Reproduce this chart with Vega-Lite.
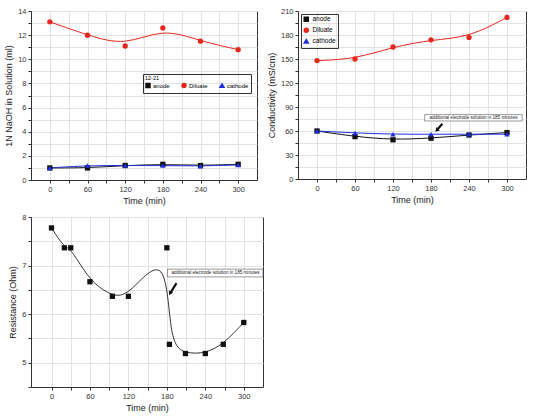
{
  "$schema": "https://vega.github.io/schema/vega-lite/v6.json",
  "background": "white",
  "padding": {"left": 4, "top": 6, "right": 4, "bottom": 4},
  "datasets": {
    "naoh": [
      {"time": 0, "series": "anode", "value": 1.0},
      {"time": 60, "series": "anode", "value": 1.0},
      {"time": 120, "series": "anode", "value": 1.2},
      {"time": 180, "series": "anode", "value": 1.3},
      {"time": 240, "series": "anode", "value": 1.2},
      {"time": 300, "series": "anode", "value": 1.3},
      {"time": 0, "series": "Diluate", "value": 13.1},
      {"time": 60, "series": "Diluate", "value": 12.0},
      {"time": 120, "series": "Diluate", "value": 11.1},
      {"time": 180, "series": "Diluate", "value": 12.6},
      {"time": 240, "series": "Diluate", "value": 11.5},
      {"time": 300, "series": "Diluate", "value": 10.8},
      {"time": 0, "series": "cathode", "value": 1.0},
      {"time": 60, "series": "cathode", "value": 1.2},
      {"time": 120, "series": "cathode", "value": 1.2},
      {"time": 180, "series": "cathode", "value": 1.2},
      {"time": 240, "series": "cathode", "value": 1.15},
      {"time": 300, "series": "cathode", "value": 1.25}
    ],
    "cond": [
      {"time": 0, "series": "anode", "value": 60},
      {"time": 60, "series": "anode", "value": 53},
      {"time": 120, "series": "anode", "value": 49},
      {"time": 180, "series": "anode", "value": 51},
      {"time": 240, "series": "anode", "value": 55},
      {"time": 300, "series": "anode", "value": 58},
      {"time": 0, "series": "Diluate", "value": 148},
      {"time": 60, "series": "Diluate", "value": 150},
      {"time": 120, "series": "Diluate", "value": 165},
      {"time": 180, "series": "Diluate", "value": 174},
      {"time": 240, "series": "Diluate", "value": 177},
      {"time": 300, "series": "Diluate", "value": 202},
      {"time": 0, "series": "cathode", "value": 60},
      {"time": 60, "series": "cathode", "value": 57.5},
      {"time": 120, "series": "cathode", "value": 56},
      {"time": 180, "series": "cathode", "value": 56},
      {"time": 240, "series": "cathode", "value": 56},
      {"time": 300, "series": "cathode", "value": 56}
    ],
    "res": [
      {"time": 0, "value": 7.78},
      {"time": 20, "value": 7.37},
      {"time": 30, "value": 7.37},
      {"time": 60, "value": 6.67},
      {"time": 95, "value": 6.37},
      {"time": 120, "value": 6.37},
      {"time": 180, "value": 7.37},
      {"time": 184, "value": 5.38},
      {"time": 209, "value": 5.19},
      {"time": 240, "value": 5.19},
      {"time": 268, "value": 5.38},
      {"time": 300, "value": 5.83}
    ]
  },
  "config": {
    "font": "Liberation Sans",
    "view": {"stroke": "#333", "strokeWidth": 1},
    "axis": {
      "grid": true,
      "gridColor": "#e2e2e2",
      "labelFontSize": 7.5,
      "titleFontSize": 9,
      "titleFontWeight": "normal",
      "domainColor": "#333",
      "tickColor": "#333",
      "labelColor": "#333",
      "titleColor": "#222",
      "tickSize": 3,
      "tickCount": 40,
      "labelOverlap": false,
      "labelBound": false,
      "labelFlush": false
    },
    "legend": {"labelFont": "Liberation Sans"}
  },
  "vconcat": [
    {
      "hconcat": [
        {
          "width": 226,
          "height": 169,
          "data": {"name": "naoh"},
          "layer": [
            {
              "mark": {"type": "line", "interpolate": "basis", "strokeWidth": 1},
              "encoding": {
                "x": {"field": "time", "type": "quantitative", "scale": {"domain": [-30, 330], "nice": false, "zero": false},
                  "axis": {"values": [0, 30, 60, 90, 120, 150, 180, 210, 240, 270, 300], "tickCount": 40, "labelOverlap": false, "labelExpr": "datum.value % 60 === 0 ? format(datum.value, '.0f') : ''", "title": "Time (min)"}},
                "y": {"field": "value", "type": "quantitative", "scale": {"domain": [0, 14], "nice": false},
                  "axis": {"values": [0,1,2,3,4,5,6,7,8,9,10,11,12,13,14], "tickCount": 40, "labelOverlap": false, "labelExpr": "datum.value % 2 === 0 ? format(datum.value, '.0f') : ''", "title": "1N NaOH in Solution (ml)"}},
                "color": {"field": "series", "type": "nominal",
                  "scale": {"domain": ["anode", "Diluate", "cathode"], "range": ["#111111", "#e8261e", "#1f2fe0"]},
                  "legend": {"title": "12-21", "orient": "none", "legendX": 112, "legendY": 63, "direction": "horizontal",
                    "strokeColor": "#333", "padding": 2, "titleFontSize": 5.5, "titleFontWeight": "normal", "labelFontSize": 6,
                    "symbolSize": 16, "columnPadding": 9, "titlePadding": 1, "labelOffset": 2}}
              }
            },
            {
              "mark": {"type": "point", "filled": true, "size": 28, "opacity": 1},
              "encoding": {
                "x": {"field": "time", "type": "quantitative"},
                "y": {"field": "value", "type": "quantitative"},
                "color": {"field": "series", "type": "nominal",
                  "scale": {"domain": ["anode", "Diluate", "cathode"], "range": ["#111111", "#e8261e", "#1f2fe0"]},
                  "legend": {"title": "12-21", "orient": "none", "legendX": 112, "legendY": 63, "direction": "horizontal",
                    "strokeColor": "#333", "padding": 2, "titleFontSize": 5.5, "titleFontWeight": "normal", "labelFontSize": 6,
                    "symbolSize": 16, "columnPadding": 9, "titlePadding": 1, "labelOffset": 2}},
                "shape": {"field": "series", "type": "nominal",
                  "scale": {"domain": ["anode", "Diluate", "cathode"], "range": ["square", "circle", "triangle-up"]},
                  "legend": {"title": "12-21", "orient": "none", "legendX": 112, "legendY": 63, "direction": "horizontal",
                    "strokeColor": "#333", "padding": 2, "titleFontSize": 5.5, "titleFontWeight": "normal", "labelFontSize": 6,
                    "symbolSize": 16, "columnPadding": 9, "titlePadding": 1, "labelOffset": 2}}
              }
            }
          ]
        },
        {
          "width": 228,
          "height": 168,
          "layer": [
            {
              "data": {"name": "cond"},
              "mark": {"type": "line", "interpolate": "basis", "strokeWidth": 1},
              "encoding": {
                "x": {"field": "time", "type": "quantitative", "scale": {"domain": [-30, 330], "nice": false, "zero": false},
                  "axis": {"values": [0, 30, 60, 90, 120, 150, 180, 210, 240, 270, 300], "tickCount": 40, "labelOverlap": false, "labelExpr": "datum.value % 60 === 0 ? format(datum.value, '.0f') : ''", "title": "Time (min)"}},
                "y": {"field": "value", "type": "quantitative", "scale": {"domain": [0, 210], "nice": false},
                  "axis": {"values": [0,15,30,45,60,75,90,105,120,135,150,165,180,195,210], "tickCount": 40, "labelOverlap": false, "labelExpr": "datum.value % 30 === 0 ? format(datum.value, '.0f') : ''", "title": "Conductivity (mS/cm)"}},
                "color": {"field": "series", "type": "nominal",
                  "scale": {"domain": ["anode", "Diluate", "cathode"], "range": ["#111111", "#e8261e", "#1f2fe0"]},
                  "legend": {"title": null, "orient": "top-left", "offset": 3, "strokeColor": "#333", "padding": 2,
                    "labelFontSize": 6.5, "symbolSize": 16, "rowPadding": 0, "labelOffset": 3}}
              }
            },
            {
              "data": {"name": "cond"},
              "mark": {"type": "point", "filled": true, "size": 28, "opacity": 1},
              "encoding": {
                "x": {"field": "time", "type": "quantitative"},
                "y": {"field": "value", "type": "quantitative"},
                "color": {"field": "series", "type": "nominal",
                  "scale": {"domain": ["anode", "Diluate", "cathode"], "range": ["#111111", "#e8261e", "#1f2fe0"]},
                  "legend": {"title": null, "orient": "top-left", "offset": 3, "strokeColor": "#333", "padding": 2,
                    "labelFontSize": 6.5, "symbolSize": 16, "rowPadding": 0, "labelOffset": 3}},
                "shape": {"field": "series", "type": "nominal",
                  "scale": {"domain": ["anode", "Diluate", "cathode"], "range": ["square", "circle", "triangle-up"]},
                  "legend": {"title": null, "orient": "top-left", "offset": 3, "strokeColor": "#333", "padding": 2,
                    "labelFontSize": 6.5, "symbolSize": 16, "rowPadding": 0, "labelOffset": 3}}
              }
            },
            {
              "data": {"values": [{"x1": 170, "x2": 324, "y1": 72.5, "y2": 80.5, "xt": 247, "yt": 76.5, "label": "additional electrode solution in 185 minutes"}]},
              "layer": [
                {"mark": {"type": "rect", "fill": "white", "stroke": "#555", "strokeWidth": 0.6},
                  "encoding": {"x": {"field": "x1", "type": "quantitative"}, "x2": {"field": "x2"}, "y": {"field": "y1", "type": "quantitative"}, "y2": {"field": "y2"}}},
                {"mark": {"type": "text", "fontSize": 4.6, "color": "#222", "baseline": "middle", "align": "center"},
                  "encoding": {"x": {"field": "xt", "type": "quantitative"}, "y": {"field": "yt", "type": "quantitative"}, "text": {"field": "label"}}}
              ]
            },
            {
              "data": {"values": [{"x1": 198, "y1": 69, "x2": 189, "y2": 61}]},
              "layer": [
                {"mark": {"type": "rule", "strokeWidth": 2.2, "color": "#111"},
                  "encoding": {"x": {"field": "x1", "type": "quantitative"}, "y": {"field": "y1", "type": "quantitative"}, "x2": {"field": "x2"}, "y2": {"field": "y2"}}},
                {"mark": {"type": "point", "shape": "triangle-up", "filled": true, "size": 22, "angle": 225, "color": "#111", "opacity": 1},
                  "encoding": {"x": {"field": "x2", "type": "quantitative"}, "y": {"field": "y2", "type": "quantitative"}}}
              ]
            }
          ]
        }
      ],
      "spacing": 8,
      "resolve": {"scale": {"color": "independent", "shape": "independent"}, "legend": {"color": "independent", "shape": "independent"}}
    },
    {
      "width": 232,
      "height": 170,
      "layer": [
        {
          "data": {"name": "res"},
          "mark": {"type": "line", "interpolate": "basis", "strokeWidth": 1, "color": "#333"},
          "encoding": {
            "x": {"field": "time", "type": "quantitative", "scale": {"domain": [-32, 330], "nice": false, "zero": false},
              "axis": {"values": [0, 30, 60, 90, 120, 150, 180, 210, 240, 270, 300], "tickCount": 40, "labelOverlap": false, "labelExpr": "datum.value % 60 === 0 ? format(datum.value, '.0f') : ''", "title": "Time (min)"}},
            "y": {"field": "value", "type": "quantitative", "scale": {"domain": [4.5, 8.005], "nice": false, "zero": false},
              "axis": {"values": [4.5, 5, 5.5, 6, 6.5, 7, 7.5, 8], "tickCount": 40, "labelOverlap": false, "labelExpr": "abs(datum.value - round(datum.value)) < 0.01 ? format(round(datum.value), 'd') : ''", "title": "Resistance (Ohm)"}}
          }
        },
        {
          "data": {"name": "res"},
          "mark": {"type": "point", "shape": "square", "filled": true, "size": 28, "color": "#111", "opacity": 1},
          "encoding": {
            "x": {"field": "time", "type": "quantitative"},
            "y": {"field": "value", "type": "quantitative"}
          }
        },
        {
          "data": {"values": [{"x1": 181, "x2": 330, "y1": 6.77, "y2": 6.93, "xt": 256, "yt": 6.85, "label": "additional electrode solution in 185 minutes"}]},
          "layer": [
            {"mark": {"type": "rect", "fill": "white", "stroke": "#555", "strokeWidth": 0.6},
              "encoding": {"x": {"field": "x1", "type": "quantitative"}, "x2": {"field": "x2"}, "y": {"field": "y1", "type": "quantitative"}, "y2": {"field": "y2"}}},
            {"mark": {"type": "text", "fontSize": 4.6, "color": "#222", "baseline": "middle", "align": "center"},
              "encoding": {"x": {"field": "xt", "type": "quantitative"}, "y": {"field": "yt", "type": "quantitative"}, "text": {"field": "label"}}}
          ]
        },
        {
          "data": {"values": [{"x1": 195, "y1": 6.64, "x2": 185, "y2": 6.43}]},
          "layer": [
            {"mark": {"type": "rule", "strokeWidth": 2.2, "color": "#111"},
              "encoding": {"x": {"field": "x1", "type": "quantitative"}, "y": {"field": "y1", "type": "quantitative"}, "x2": {"field": "x2"}, "y2": {"field": "y2"}}},
            {"mark": {"type": "point", "shape": "triangle-up", "filled": true, "size": 22, "angle": 205, "color": "#111", "opacity": 1},
              "encoding": {"x": {"field": "x2", "type": "quantitative"}, "y": {"field": "y2", "type": "quantitative"}}}
          ]
        }
      ]
    }
  ],
  "spacing": 6
}
